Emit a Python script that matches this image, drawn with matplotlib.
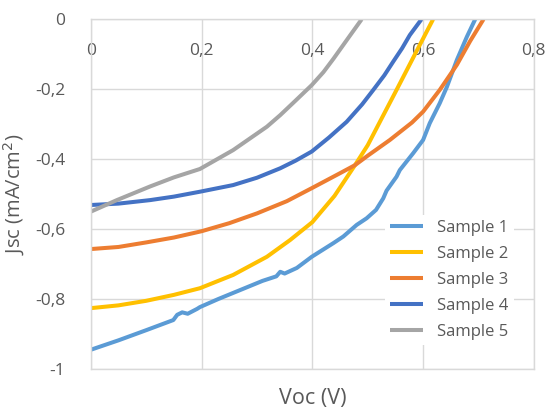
import matplotlib.pyplot as plt
from matplotlib.ticker import FuncFormatter

plt.rcParams['font.family'] = ['Open Sans', 'DejaVu Sans']

# Sample 1 (noisy measured curve)
v1 = [0.0, 0.05, 0.10, 0.149, 0.156, 0.165, 0.175, 0.192, 0.197, 0.23, 0.27, 0.31, 0.335, 0.342,
      0.35, 0.372, 0.399, 0.438, 0.456, 0.48, 0.498, 0.515, 0.528, 0.534, 0.552, 0.558, 0.582,
      0.60, 0.612, 0.630, 0.643, 0.661, 0.679, 0.694]
j1 = [-0.945, -0.918, -0.889, -0.86, -0.845, -0.838, -0.842, -0.828, -0.823, -0.80, -0.774,
      -0.748, -0.735, -0.722, -0.727, -0.711, -0.679, -0.64, -0.621, -0.588, -0.569, -0.545,
      -0.512, -0.49, -0.45, -0.431, -0.383, -0.345, -0.297, -0.24, -0.193, -0.116, -0.05, 0.0]

v2 = [0.0, 0.05, 0.10, 0.15, 0.197, 0.257, 0.318, 0.36, 0.40, 0.44, 0.477, 0.50, 0.522,
      0.552, 0.582, 0.60, 0.618]
j2 = [-0.826, -0.818, -0.805, -0.788, -0.769, -0.731, -0.679, -0.631, -0.58, -0.505, -0.417,
      -0.36, -0.293, -0.202, -0.11, -0.055, 0.0]

v3 = [0.0, 0.05, 0.10, 0.15, 0.20, 0.25, 0.30, 0.354, 0.40, 0.45, 0.477, 0.50, 0.54, 0.58,
      0.60, 0.63, 0.661, 0.685, 0.709]
j3 = [-0.657, -0.651, -0.638, -0.624, -0.606, -0.583, -0.555, -0.52, -0.482, -0.44, -0.417,
      -0.39, -0.345, -0.295, -0.264, -0.202, -0.13, -0.062, 0.0]

v4 = [0.0, 0.05, 0.107, 0.15, 0.197, 0.257, 0.30, 0.342, 0.37, 0.399, 0.43, 0.462,
      0.49, 0.51, 0.53, 0.546, 0.562, 0.576, 0.597]
j4 = [-0.531, -0.527, -0.517, -0.507, -0.493, -0.474, -0.453, -0.426, -0.404, -0.378, -0.338,
      -0.293, -0.243, -0.202, -0.16, -0.121, -0.083, -0.045, 0.0]

v5 = [0.0, 0.047, 0.107, 0.15, 0.197, 0.257, 0.318, 0.342, 0.37, 0.399, 0.42, 0.438, 0.465,
      0.489]
j5 = [-0.55, -0.517, -0.478, -0.452, -0.428, -0.374, -0.307, -0.274, -0.232, -0.188, -0.151,
      -0.113, -0.053, 0.0]

labels = ['Sample 1', 'Sample 2', 'Sample 3', 'Sample 4', 'Sample 5']
colors = ['#5B9BD5', '#FFC000', '#ED7D31', '#4472C4', '#A5A5A5']
xticks = [0, 0.2, 0.4, 0.6, 0.8]
yticks = [0, -0.2, -0.4, -0.6, -0.8, -1]

txt = '#595959'
grid = '#D9D9D9'

fig = plt.figure(figsize=(5.47, 4.08), dpi=100)
ax = fig.add_axes([0.166, 0.0956, 0.81, 0.857])

series = [(v1, j1), (v2, j2), (v3, j3), (v4, j4), (v5, j5)]
for (v, j), lab, c in zip(series, labels, colors):
    ax.plot(v, j, color=c, lw=2.9, label=lab, solid_joinstyle='round', solid_capstyle='butt')

ax.set_xlim(0, 0.8)
ax.set_ylim(-1, 0)
ax.set_xticks(xticks)
ax.set_yticks(yticks)

comma = FuncFormatter(lambda val, pos: ('%g' % round(val, 2)).replace('.', ','))
ax.xaxis.set_major_formatter(comma)
ax.yaxis.set_major_formatter(comma)

ax.grid(True, color=grid, lw=1)
ax.set_axisbelow(True)
for s in ax.spines.values():
    s.set_color(grid)
    s.set_linewidth(1)

ax.tick_params(axis='x', top=False, bottom=False, labeltop=True, labelbottom=False,
               pad=-32, labelsize=12.5, labelcolor=txt)
ax.tick_params(axis='y', left=False, pad=15, labelsize=12.5, labelcolor=txt)

ax.set_xlabel('Voc (V)', fontsize=15.5, color=txt, labelpad=14)
ax.set_ylabel('Jsc (mA/cm$^2$)', fontsize=14.5, color=txt, labelpad=6)
ax.xaxis.set_label_position('bottom')

leg = ax.legend(loc='upper left', bbox_to_anchor=(0.645, 0.465), frameon=True, fontsize=12,
                handlelength=2.0, handletextpad=0.85, labelspacing=0.6, borderpad=0.3,
                labelcolor=txt)
leg.get_frame().set_facecolor('white')
leg.get_frame().set_edgecolor('none')
leg.get_frame().set_alpha(1)

fig.savefig('out.png', dpi=100)
